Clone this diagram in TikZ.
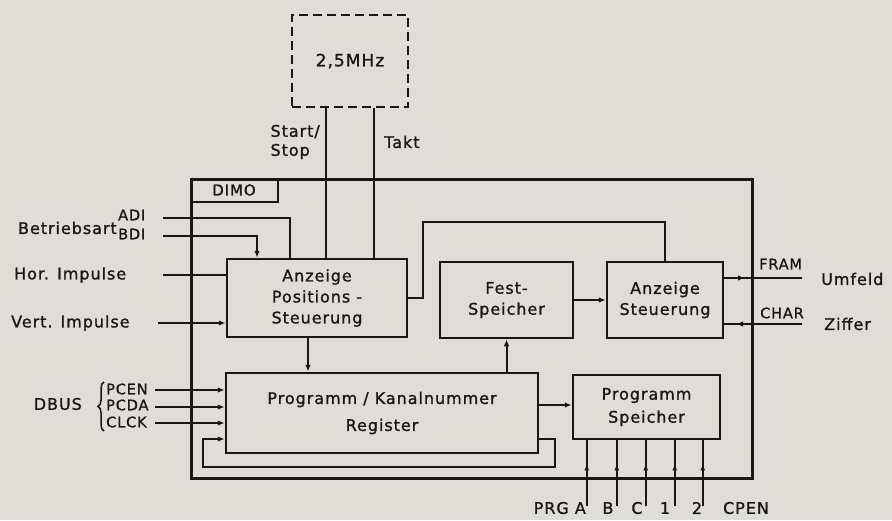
\documentclass[tikz,border=0pt]{standalone}
\usepackage{fontspec}
\setmainfont[LetterSpace=6,FakeBold=1.2]{DejaVu Sans}
\usetikzlibrary{arrows.meta,calc,decorations.pathreplacing}
\definecolor{ink}{RGB}{24,24,24}
\definecolor{paper}{RGB}{224,221,217}
\begin{document}
\begin{tikzpicture}[x=1pt,y=-1pt,
  box/.style={draw=ink, line width=2.5pt, inner sep=0pt, align=center, text=ink,
    font=\fontsize{16}{21}\selectfont},
  sig/.style={draw=ink, line width=2pt},
  arr/.style={sig, -{Latex[length=7pt,width=5.5pt]}},
  lab/.style={text=ink, inner sep=0pt, font=\fontsize{16}{19}\selectfont},
  slab/.style={text=ink, inner sep=0pt, font=\fontsize{14.5}{16}\selectfont}]
\useasboundingbox (0,0) rectangle (892,520);
\fill[paper] (0,0) rectangle (892,520);

% blocks
\node[box, minimum width=116pt, minimum height=92pt, dash pattern=on 9pt off 5pt,
  font=\fontsize{17}{19}\selectfont] (clk) at (350,61) {2,5MHz};
\node[box, minimum width=561pt, minimum height=299pt, line width=3pt] (dimo) at (471.5,328.5) {};
\node[box, anchor=north west, minimum width=87pt, minimum height=23pt, line width=2pt,
  font=\fontsize{15}{16}\selectfont] (dimolab) at (dimo.north west) {DIMO};
\node[box, minimum width=180pt, minimum height=78pt] (anz) at (317,298) {Anzeige\\Positions -\\Steuerung};
\node[box, minimum width=133pt, minimum height=76pt] (fest) at (506.5,300) {Fest-\\Speicher};
\node[box, minimum width=116pt, minimum height=76pt] (anzst) at (665,300) {Anzeige\\Steuerung};
\node[box, minimum width=312pt, minimum height=80pt, font=\fontsize{16}{27}\selectfont] (reg) at (382,413) {Programm / Kanalnummer\\Register};
\node[box, minimum width=147pt, minimum height=64pt, font=\fontsize{16}{23}\selectfont] (psp) at (646.5,407) {Programm\\Speicher};

% clock lines
\draw[sig] ([xshift=-24pt]clk.south) -- ([xshift=-24pt]clk.south |- anz.north);
\draw[sig] ([xshift=24pt]clk.south) -- ([xshift=24pt]clk.south |- anz.north);
\node[lab, anchor=east, align=left] (startstop) at (320,142) {Start/\\Stop};
\node[lab, anchor=west] (takt) at (384,142) {Takt};

% left inputs
\coordinate (adi) at (163,218);
\coordinate (bdi) at (163,236);
\coordinate (hor) at (163,275);
\coordinate (vert) at (158,323);
\draw[sig] (adi) -| ([xshift=-27pt]anz.north);
\draw[arr] (bdi) -| ([xshift=-60pt]anz.north);
\draw[sig] (hor) -- (hor -| anz.west);
\draw[arr] (vert) -- (vert -| anz.west);
\node[lab, anchor=east] (betr) at (117,228) {Betriebsart};
\node[slab, anchor=west] (adil) at (118,215) {ADI};
\node[slab, anchor=west] (bdil) at (118,234) {BDI};
\node[lab, anchor=west] (horl) at (14,275) {Hor. Impulse};
\node[lab, anchor=west] (vertl) at (11,323) {Vert. Impulse};

% internal connections
\coordinate (turn) at (423,222);
\draw[sig] (anz.east) -| (turn) -| (anzst.north);
\draw[arr] (fest.east) -- (anzst.west);
\draw[arr] ([xshift=-9pt]anz.south) -- ([xshift=-9pt]anz.south |- reg.north);
\draw[arr] (fest.south |- reg.north) -- (fest.south);
\draw[arr] ([yshift=8pt]reg.east) -- ([yshift=8pt]reg.east -| psp.west);
\coordinate (loopa) at (555,467);
\coordinate (loopb) at (203,467);
\draw[arr] ([yshift=-26pt]reg.east) -| (loopa) -- (loopb) |- ([yshift=-26pt]reg.west);

% DBUS
\coordinate (pcen) at (155,390);
\coordinate (pcda) at (155,407);
\coordinate (clck) at (155,423);
\draw[arr] (pcen) -- (pcen -| reg.west);
\draw[arr] (pcda) -- (pcda -| reg.west);
\draw[arr] (clck) -- (clck -| reg.west);
\node[lab, anchor=east] (dbus) at (82,404) {DBUS};
\draw[ink, line width=1.5pt, decorate, decoration={brace, amplitude=6pt}] (104,431) -- (104,382);
\node[slab, anchor=west] (pcenl) at (106,389) {PCEN};
\node[slab, anchor=west] (pcdal) at (106,405) {PCDA};
\node[slab, anchor=west] (clckl) at (106,422) {CLCK};

% right outputs
\coordinate (fram) at (802,278);
\coordinate (char) at (802,324);
\draw[sig] (anzst.east |- fram) -- (fram);
\draw[arr] (anzst.east |- fram) -- (745,278);
\draw[sig] (char) -- (anzst.east |- char);
\draw[arr] (char) -- (736,324);
\node[slab, anchor=west] (framl) at (759,264) {FRAM};
\node[lab, anchor=west] (umf) at (821,279) {Umfeld};
\node[slab, anchor=west] (charl) at (760,313) {CHAR};
\node[lab, anchor=west] (ziff) at (824,324) {Ziffer};

% program memory pins
\foreach \dx in {15,45,74,103,131} {
  \draw[sig] ([xshift=\dx pt]psp.south west) -- ++(0,66);
  \draw[sig, -{Latex[length=6pt,width=5pt]}] ([xshift=\dx pt, yshift=-66pt]psp.south west) -- ++(0,-42);
}
\node[lab, anchor=east] (prga) at (586,508) {PRG A};
\node[lab] (pb) at (608,508) {B};
\node[lab] (pc) at (637,508) {C};
\node[lab] (p1) at (665,508) {1};
\node[lab] (p2) at (697,508) {2};
\node[lab] (cpen) at (746,508) {CPEN};
\end{tikzpicture}
\end{document}
